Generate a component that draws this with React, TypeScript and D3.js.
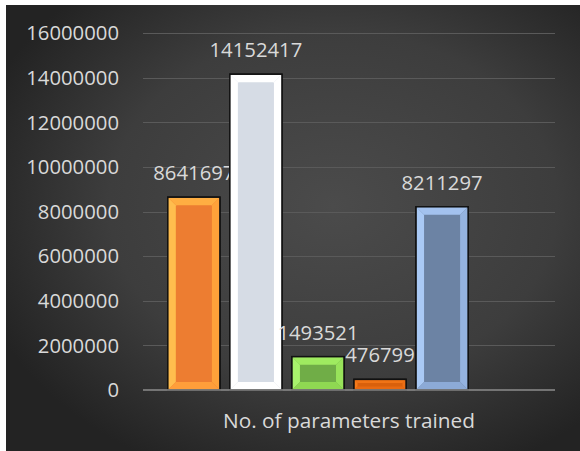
import React from "react";
import * as d3 from "d3";

const seriesNames = ["S1", "S2", "S3", "S4", "S5", "S6"];
const seriesValues: (number | null)[] = [8641697, 14152417, 1493521, 476799, 8211297, null];
const yTicks = [0, 2000000, 4000000, 6000000, 8000000, 10000000, 12000000, 14000000, 16000000];
const categoryLabel = "No. of parameters trained";

type Pal = { face: string; l: string; t: string; r: string; b: string };
const palettes: Pal[] = [
  { face: "#ED7D31", l: "#FFBD4E", t: "#FFAE42", r: "#FFA23A", b: "#FF9E3A" },
  { face: "#D6DCE5", l: "#FFFFFF", t: "#FFFFFF", r: "#FFFFFF", b: "#FFFFFF" },
  { face: "#70AD47", l: "#A8F36C", t: "#9FEB60", r: "#98E35A", b: "#8FD852" },
  { face: "#D9600C", l: "#F47A1A", t: "#F07316", r: "#EC6E14", b: "#E86A12" },
  { face: "#6C83A4", l: "#A9C9F5", t: "#A3C2EF", r: "#94B3E0", b: "#8CAAD6" },
  { face: "#999", l: "#bbb", t: "#bbb", r: "#bbb", b: "#bbb" },
];

const W = 580, H = 451;
const left = 143, right = 555, top = 33, bottom = 390;
const FONT = "'Open Sans', Lato, sans-serif";

export default function App() {
  const x = d3.scaleBand<string>().domain(seriesNames).range([left, right]).paddingInner(0.161).paddingOuter(0.4);
  const y = d3.scaleLinear().domain([0, 16000000]).range([bottom, top]);
  const bw = x.bandwidth();

  return (
    <svg width={W} height={H} style={{ position: "absolute", left: 0, top: 0, background: "#fff" }}>
      <defs>
        <radialGradient id="bg" cx="0.57" cy="0.45" r="0.65">
          <stop offset="0" stopColor="#4b4b4b" />
          <stop offset="0.6" stopColor="#3d3d3d" />
          <stop offset="1" stopColor="#232323" />
        </radialGradient>
      </defs>
      <rect x={6} y={5} width={W - 6} height={H - 5} fill="url(#bg)" />
      {yTicks.map((t) => (
        <g key={t}>
          {t !== 0 && (
            <line x1={left} x2={right} y1={Math.round(y(t)) + 0.5} y2={Math.round(y(t)) + 0.5} stroke="#5a5a5a" strokeWidth={1} />
          )}
          <text x={119} y={y(t)} dy="0.36em" textAnchor="end" fill="#D9D9D9" fontSize={20.3} fontFamily={FONT}>
            {t}
          </text>
        </g>
      ))}
      {seriesNames.map((s, i) => {
        const v = seriesValues[i];
        if (v == null) return null;
        const p = palettes[i];
        const x0 = x(s)!;
        const x1 = x0 + bw;
        const y0 = y(v);
        const y1 = y(0);
        const h = y1 - y0;
        const bv = Math.min(8, h / 3);
        const ix0 = x0 + bv, ix1 = x1 - bv, iy0 = y0 + bv, iy1 = y1 - bv;
        return (
          <g key={s}>
            <rect x={x0} y={y0} width={bw} height={h} fill={p.face} stroke="#111" strokeWidth={1.5} />
            <polygon points={`${x0},${y0} ${ix0},${iy0} ${ix0},${iy1} ${x0},${y1}`} fill={p.l} />
            <polygon points={`${x0},${y0} ${x1},${y0} ${ix1},${iy0} ${ix0},${iy0}`} fill={p.t} />
            <polygon points={`${x1},${y0} ${x1},${y1} ${ix1},${iy1} ${ix1},${iy0}`} fill={p.r} />
            <polygon points={`${x0},${y1} ${ix0},${iy1} ${ix1},${iy1} ${x1},${y1}`} fill={p.b} />
            <rect x={x0} y={y0} width={bw} height={h} fill="none" stroke="#111" strokeWidth={1.5} />
            <text x={x0 + bw / 2} y={y0 - 17} textAnchor="middle" fill="#D9D9D9" fontSize={20.3} fontFamily={FONT}>
              {v}
            </text>
          </g>
        );
      })}
      <line x1={left} x2={right} y1={bottom} y2={bottom} stroke="#8c8c8c" strokeWidth={1.5} />
      <text x={(left + right) / 2} y={428} textAnchor="middle" fill="#D9D9D9" fontSize={20.8} fontFamily={FONT}>
        {categoryLabel}
      </text>
    </svg>
  );
}
